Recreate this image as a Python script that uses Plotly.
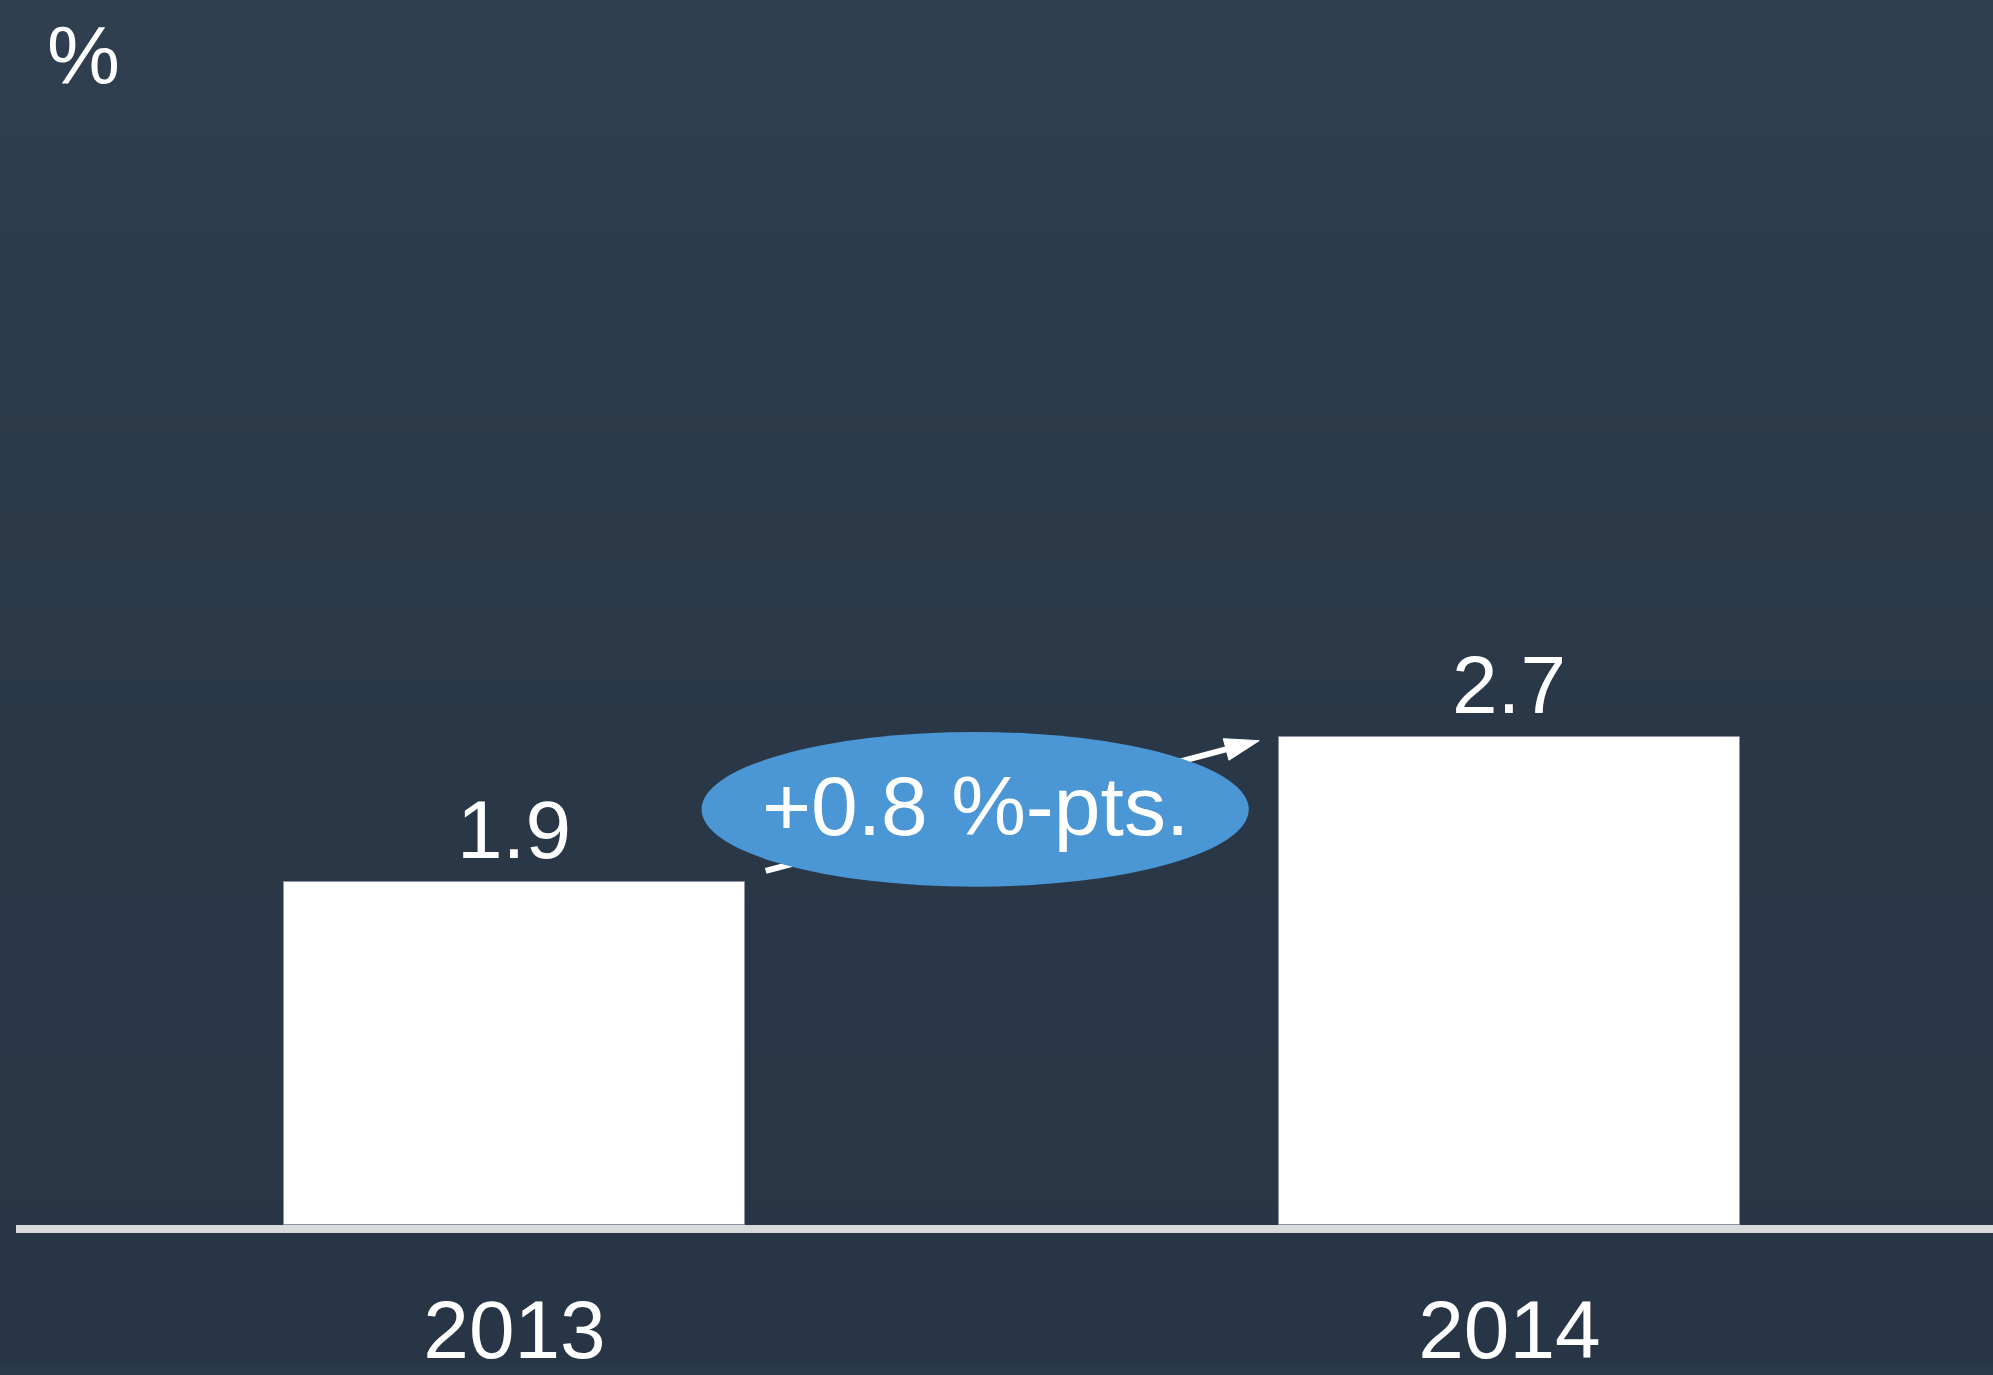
import plotly.graph_objects as go
import zlib, struct, base64

# ---- data ----
years = ["2013", "2014"]
values = [1.9, 2.7]
value_labels = ["1.9", "2.7"]
delta_label = "+0.8 %-pts."
unit_label = "%"

W, H = 1993, 1375
FONT = "Liberation Sans, Arial, sans-serif"
BAR_W = 0.463
PLOT_BOTTOM = 1236      # px from top where the value axis starts
PX_PER_UNIT = 182.4


def gradient_png(stops, h=256):
    rows = b""
    for i in range(h):
        t = i / (h - 1)
        for j in range(len(stops) - 1):
            t0, c0 = stops[j]
            t1, c1 = stops[j + 1]
            if t0 <= t <= t1:
                f = (t - t0) / (t1 - t0) if t1 > t0 else 0
                c = [round(c0[k] + (c1[k] - c0[k]) * f) for k in range(3)]
                break
        rows += b"\x00" + bytes(c)

    def chunk(tag, data):
        return (struct.pack(">I", len(data)) + tag + data
                + struct.pack(">I", zlib.crc32(tag + data) & 0xFFFFFFFF))

    png = (b"\x89PNG\r\n\x1a\n"
           + chunk(b"IHDR", struct.pack(">IIBBBBB", 1, h, 8, 2, 0, 0, 0))
           + chunk(b"IDAT", zlib.compress(rows))
           + chunk(b"IEND", b""))
    return "data:image/png;base64," + base64.b64encode(png).decode()


bg = gradient_png([(0.0, (47, 63, 79)), (0.55, (41, 55, 71)), (1.0, (40, 53, 70))])

x_idx = list(range(len(years)))

fig = go.Figure()
fig.add_trace(go.Bar(
    x=x_idx, y=values, width=BAR_W,
    marker=dict(color="white", line=dict(color="rgba(140,150,162,0.9)", width=1)),
    hoverinfo="skip", showlegend=False,
))

# arrow from first bar to second bar
x0 = x_idx[0] + BAR_W / 2 + 0.021
x1 = x_idx[1] - BAR_W / 2 - 0.020
y0 = values[0] + 0.06
y1 = values[1] - 0.02
fig.add_trace(go.Scatter(
    x=[x0, x1], y=[y0, y1], mode="lines+markers",
    line=dict(color="white", width=6),
    marker=dict(symbol=["circle", "arrow"], size=[0, 36], color="#ffffff",
                opacity=1, angleref="previous", line=dict(width=1, color="#ffffff")),
    hoverinfo="skip", showlegend=False,
))

# ellipse
cx = (x_idx[0] + x_idx[1]) / 2 - 0.037
cy = (values[0] + values[1]) / 2
fig.add_shape(type="circle", xref="x", yref="y",
              x0=cx - 0.275, x1=cx + 0.275, y0=cy - 0.428, y1=cy + 0.428,
              fillcolor="#4B96D4", line=dict(width=0), layer="above")

annotations = [
    dict(x=cx, y=cy, xref="x", yref="y", text=delta_label, showarrow=False, yshift=3,
         font=dict(family=FONT, size=84, color="white"), xanchor="center", yanchor="middle"),
    dict(x=83 / W, y=1 - 56 / H, xref="paper", yref="paper", text=unit_label, showarrow=False,
         font=dict(family=FONT, size=82, color="white"), xanchor="center", yanchor="middle"),
]
for xi, v, lab in zip(x_idx, values, value_labels):
    annotations.append(dict(x=xi, y=v, xref="x", yref="y", text=lab, showarrow=False,
                            font=dict(family=FONT, size=82, color="white"),
                            xanchor="center", yanchor="bottom", yshift=5))

fig.update_layout(
    width=W, height=H,
    margin=dict(l=0, r=0, t=0, b=0),
    paper_bgcolor="#2b3a4b",
    plot_bgcolor="rgba(0,0,0,0)",
    images=[dict(source=bg, xref="paper", yref="paper", x=0, y=1, sizex=1, sizey=1,
                 sizing="stretch", layer="below", xanchor="left", yanchor="top")],
    xaxis=dict(domain=[16 / W, 1], range=[-0.501, 1.486],
               tickvals=x_idx, ticktext=years, showgrid=False, zeroline=False,
               showline=True, linecolor="#d9dadc", linewidth=8, ticks="",
               tickfont=dict(family=FONT, size=82, color="white"),
               ticklabelstandoff=26, fixedrange=True),
    yaxis=dict(domain=[(H - PLOT_BOTTOM) / H, 1], range=[0, PLOT_BOTTOM / PX_PER_UNIT],
               visible=False, showgrid=False, zeroline=False, fixedrange=True),
    annotations=annotations,
    bargap=0,
)

post = """
document.documentElement.style.overflow='hidden';
document.body.style.margin='0';
document.body.style.overflow='hidden';
var d=document.querySelector('.plotly-graph-div');
d.style.position='absolute'; d.style.top='0px'; d.style.left='0px';
window.scrollTo(0,0);
"""
fig.write_html("out.html", config={"displayModeBar": False}, post_script=post)
